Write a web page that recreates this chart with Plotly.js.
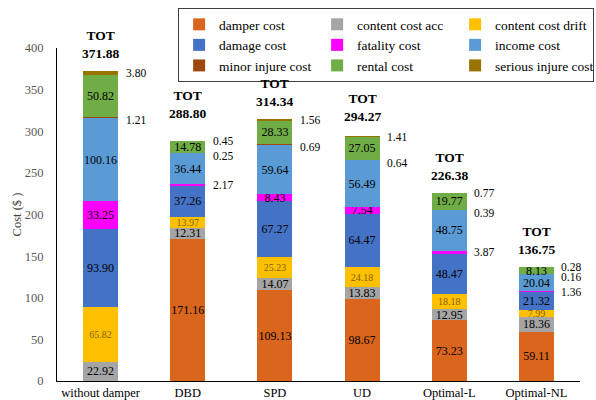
<!DOCTYPE html>
<html>
<head>
<meta charset="utf-8">
<script src="https://cdn.plot.ly/plotly-3.0.1.min.js"></script>
<style>html,body{margin:0;padding:0;background:#fff;}#chart{width:596px;height:400px;}</style>
</head>
<body>
<div id="chart"></div>
<script>
const categories = ['without damper', 'DBD', 'SPD', 'UD', 'Optimal-L', 'Optimal-NL'];
const damperCost        = [0,      171.16, 109.13, 98.67, 73.23, 59.11];
const contentCostAcc    = [22.92,  12.31,  14.07,  13.83, 12.95, 18.36];
const contentCostDrift  = [65.82,  13.97,  25.23,  24.18, 18.18, 7.99];
const damageCost        = [93.90,  37.26,  67.27,  64.47, 48.47, 21.32];
const fatalityCost      = [33.25,  2.17,   8.43,   7.54,  3.87,  1.36];
const incomeCost        = [100.16, 36.44,  59.64,  56.49, 48.75, 20.04];
const minorInjureCost   = [1.21,   0.25,   0.69,   0.64,  0.39,  0.16];
const rentalCost        = [50.82,  14.78,  28.33,  27.05, 19.77, 8.13];
const seriousInjureCost = [3.80,   0.45,   1.56,   1.41,  0.77,  0.28];
const totals            = [371.88, 288.80, 314.34, 294.27, 226.38, 136.75];

const seriesNames = ['damper cost', 'content cost acc', 'content cost drift', 'damage cost',
  'fatality cost', 'income cost', 'minor injure cost', 'rental cost', 'serious injure cost'];
const seriesValues = [damperCost, contentCostAcc, contentCostDrift, damageCost, fatalityCost,
  incomeCost, minorInjureCost, rentalCost, seriousInjureCost];
const seriesColors = ['#DA651C', '#A5A5A5', '#FFC000', '#4472C4', '#FF00FF', '#5B9BD5',
  '#9E480E', '#70AD47', '#997300'];

// extra lift (px) of the TOT labels, as placed in the reference
const totLift = [0, 10, 0, 2, 0, 0];

const serif = 'Liberation Serif';
const traces = [];
const annotations = [];
const cum = categories.map(() => 0);

seriesValues.forEach((vals, si) => {
  const isYellow = si === 2;
  traces.push({
    type: 'bar',
    name: seriesNames[si],
    x: categories,
    y: vals,
    marker: {color: seriesColors[si], line: {width: 0}},
    text: vals.map(v => v >= 5 ? v.toFixed(2) : ''),
    textposition: 'inside',
    insidetextanchor: 'middle',
    textangle: 0,
    constraintext: 'none',
    textfont: {family: serif, size: isYellow ? 10 : 12, color: isYellow ? '#7F6000' : '#000000'},
    hoverinfo: 'none'
  });
  vals.forEach((v, i) => {
    if (v > 0 && v < 5) {
      annotations.push({
        x: categories[i], y: cum[i] + v / 2, xref: 'x', yref: 'y',
        text: v.toFixed(2), showarrow: false, xanchor: 'left', yanchor: 'middle',
        xshift: 23, yshift: si === 6 ? -3 : 0,
        font: {family: serif, size: 11.5, color: '#000000'}
      });
    }
    cum[i] += v;
  });
});

totals.forEach((t, i) => {
  annotations.push({
    x: categories[i], y: t, xref: 'x', yref: 'y',
    text: '<b>TOT<br>' + t.toFixed(2) + '</b>', showarrow: false,
    xanchor: 'center', yanchor: 'bottom', yshift: 8 + totLift[i],
    font: {family: serif, size: 13.5, color: '#000000'}
  });
});

const layout = {
  width: 596, height: 400,
  margin: {l: 57, r: 16, t: 48, b: 19, autoexpand: false},
  paper_bgcolor: '#ffffff', plot_bgcolor: '#ffffff',
  barmode: 'stack', bargap: 0.6,
  showlegend: true,
  legend: {
    orientation: 'h', x: 1.027, xanchor: 'right', y: 1.12, yanchor: 'top',
    bordercolor: '#404040', borderwidth: 1, bgcolor: '#ffffff',
    font: {family: serif, size: 13.5, color: '#000000'},
    entrywidth: 93, entrywidthmode: 'pixels', traceorder: 'normal'
  },
  xaxis: {
    type: 'category', range: [-0.5, 5.5], showline: true, linecolor: '#000000', linewidth: 1,
    ticks: '', showgrid: false, zeroline: false, automargin: false,
    tickfont: {family: serif, size: 12.5, color: '#000000'}, fixedrange: true
  },
  yaxis: {
    range: [0, 400], dtick: 50, showline: true, linecolor: '#000000', linewidth: 1,
    ticks: '', showgrid: false, zeroline: false, ticklabelstandoff: 10, automargin: false,
    tickfont: {family: serif, size: 12.5, color: '#595959'},
    title: {text: 'Cost ($ )', font: {family: serif, size: 12.5, color: '#404040'}, standoff: 0},
    fixedrange: true
  },
  annotations: annotations
};

Plotly.newPlot('chart', traces, layout, {displayModeBar: false, staticPlot: true});
</script>
</body>
</html>
